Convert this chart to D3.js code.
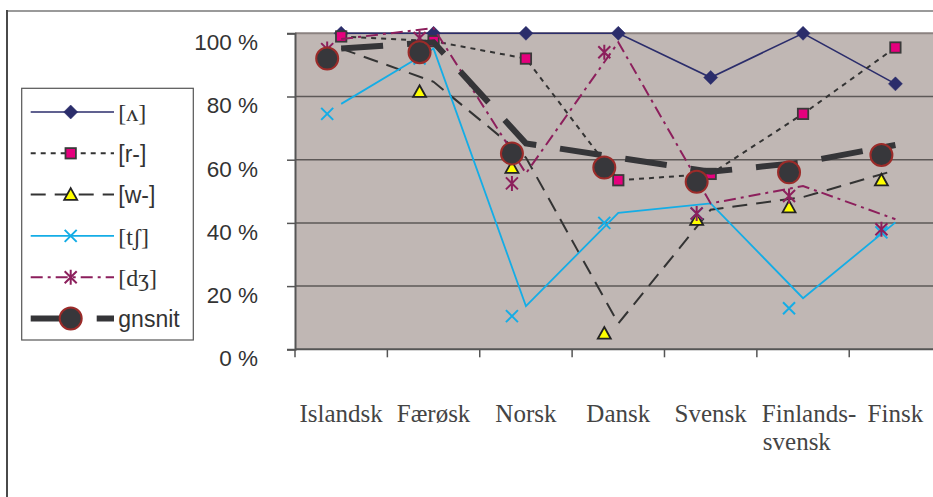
<!DOCTYPE html>
<html>
<head>
<meta charset="utf-8">
<script src="https://cdn.jsdelivr.net/npm/d3@7"></script>
<style>
  html, body { margin: 0; padding: 0; background: #fff; }
  svg { display: block; }
</style>
</head>
<body>
<svg id="chart" width="933" height="497"></svg>
<script>
// Categories (languages) and the share of each variant, in percent
const categories = ["Islandsk", "Færøsk", "Norsk", "Dansk", "Svensk", "Finlands-svensk", "Finsk"];
const seriesNames = ["[ʌ]", "[r-]", "[w-]", "[tʃ]", "[dʒ]", "gnsnit"];
const valuesLambda = [100, 100, 100, 100, 86, 100, 84];
const valuesR      = [99, 97.5, 92, 53.5, 55.5, 74.5, 95.5];
const valuesW      = [92, 81.5, 57.5, 5, 41, 45, 53.5];
const valuesTsh    = [74.5, 92, 10.5, 40, 43, 13, 37];
const valuesDzh    = [95, 98.5, 52.5, 94, 43, 48.5, 38];
const valuesAvg    = [92, 94, 62, 57.5, 53, 56, 61.5];
const yTicks = [0, 20, 40, 60, 80, 100];

const seriesValues = [valuesLambda, valuesR, valuesW, valuesTsh, valuesDzh, valuesAvg];

// Drawing styles for each series
const styles = [
  { color: "#2b2d6b", width: 1.6, dash: null,        marker: "diamond",  shifted: false },
  { color: "#333333", width: 2,   dash: "5,5",       marker: "square",   shifted: false },
  { color: "#333333", width: 2,   dash: "15,9",      marker: "triangle", shifted: true  },
  { color: "#14ade6", width: 1.8, dash: null,        marker: "cross",    shifted: true  },
  { color: "#8c1f5c", width: 2,   dash: "12,5,3,5",  marker: "asterisk", shifted: true  },
  { color: "#353538", width: 6,   dash: "42,24",     marker: "circle",   shifted: true  }
];
// markers of the shifted series sit left/below of their polyline vertices
const markerShiftX = -14, lineShiftY = -10;

const svg = d3.select("#chart");

const plot = { left: 295, right: 941.6, top: 33.3, bottom: 349.3 };

const x = d3.scaleBand().domain(categories).range([plot.left, plot.right]).padding(0);
const cx = c => x(c) + x.bandwidth() / 2;
const y = d3.scaleLinear().domain([0, 100]).range([plot.bottom, plot.top]);

// outer chart frame
svg.append("line").attr("x1", 7).attr("x2", 933).attr("y1", 11).attr("y2", 11)
  .attr("stroke", "#9a9a9a").attr("stroke-width", 2);
svg.append("line").attr("x1", 7).attr("x2", 7).attr("y1", 10).attr("y2", 497)
  .attr("stroke", "#4a4a4a").attr("stroke-width", 2);

// plot background
svg.append("rect")
  .attr("x", plot.left).attr("y", plot.top)
  .attr("width", plot.right - plot.left).attr("height", plot.bottom - plot.top)
  .attr("fill", "#c0b7b4");

// gridlines
svg.append("g").selectAll("line")
  .data(yTicks.filter(t => t > 0 && t < 100))
  .join("line")
  .attr("x1", plot.left).attr("x2", plot.right)
  .attr("y1", d => y(d)).attr("y2", d => y(d))
  .attr("stroke", "#5d5857").attr("stroke-width", 1.5);

// top border of plot area
svg.append("line").attr("x1", plot.left).attr("x2", plot.right)
  .attr("y1", y(100)).attr("y2", y(100))
  .attr("stroke", "#8b8280").attr("stroke-width", 2);

// y axis
const yAxis = svg.append("g")
  .attr("transform", `translate(${plot.left},0)`)
  .call(d3.axisLeft(y).tickValues(yTicks).tickSize(8).tickPadding(29).tickFormat(d => d + " %"));
yAxis.select(".domain").attr("stroke", "#555").attr("stroke-width", 2);
yAxis.selectAll(".tick line").attr("stroke", "#555").attr("stroke-width", 1.5);
yAxis.selectAll(".tick text")
  .attr("dy", 16.3)
  .attr("fill", "#333")
  .style("font-family", "'Liberation Sans', Arial, sans-serif")
  .style("font-size", "22.5px");

// x axis baseline and category boundary ticks
svg.append("line").attr("x1", plot.left).attr("x2", plot.right)
  .attr("y1", plot.bottom).attr("y2", plot.bottom)
  .attr("stroke", "#555").attr("stroke-width", 2);
const boundaries = categories.map(c => x(c)).concat([plot.right]);
svg.append("g").selectAll("line").data(boundaries).join("line")
  .attr("x1", d => d).attr("x2", d => d)
  .attr("y1", plot.bottom).attr("y2", plot.bottom + 8)
  .attr("stroke", "#555").attr("stroke-width", 1.5);

// category labels (wrapped after a hyphen)
const xLabels = svg.append("g")
  .style("font-family", "'Liberation Serif', 'Times New Roman', serif")
  .style("font-size", "25px")
  .attr("fill", "#444");
categories.forEach(c => {
  const parts = c.includes("-") ? [c.slice(0, c.indexOf("-") + 1), c.slice(c.indexOf("-") + 1)] : [c];
  if (parts.length === 1) {
    xLabels.append("text").attr("x", cx(c)).attr("y", 421.7)
      .attr("text-anchor", "middle").text(c);
  } else {
    const t1 = xLabels.append("text").attr("y", 421.7).attr("text-anchor", "start").text(parts[0]);
    const w = t1.node().getComputedTextLength();
    const start = cx(c) - w / 2 + 6;
    t1.attr("x", start);
    xLabels.append("text").attr("x", start + 1).attr("y", 450).attr("text-anchor", "start").text(parts[1]);
  }
});

// marker shapes
function drawMarker(g, type, color) {
  switch (type) {
    case "diamond":
      g.append("path").attr("d", "M0,-7L7,0L0,7L-7,0Z").attr("fill", color).attr("stroke", color).attr("stroke-width", 0.5);
      break;
    case "square":
      g.append("rect").attr("x", -5.2).attr("y", -5.2).attr("width", 10.4).attr("height", 10.4)
        .attr("fill", "#e5007d").attr("stroke", "#3a3a3a").attr("stroke-width", 1.8);
      break;
    case "triangle":
      g.append("path").attr("d", "M0,-6.5L6.5,5.2L-6.5,5.2Z")
        .attr("fill", "#ffff00").attr("stroke", "#222").attr("stroke-width", 1.8).attr("stroke-linejoin", "miter");
      break;
    case "cross":
      g.append("path").attr("d", "M-6,-6L6,6M-6,6L6,-6").attr("stroke", color).attr("stroke-width", 2).attr("fill", "none");
      break;
    case "asterisk":
      g.append("path").attr("d", "M-6,-6L6,6M-6,6L6,-6M0,-7.5L0,7.5").attr("stroke", color).attr("stroke-width", 2).attr("fill", "none");
      break;
    case "circle":
      g.append("circle").attr("r", 11).attr("fill", "#37373b").attr("stroke", "#9b2b29").attr("stroke-width", 2);
      break;
  }
}

// series: line first, then its markers
seriesValues.forEach((vals, i) => {
  const st = styles[i];
  const data = categories.map((c, k) => ({ c, v: vals[k] }));
  const line = d3.line()
    .x(d => cx(d.c))
    .y(d => y(d.v) + (st.shifted ? lineShiftY : 0));
  const g = svg.append("g");
  g.append("path").datum(data)
    .attr("d", line)
    .attr("fill", "none")
    .attr("stroke", st.color)
    .attr("stroke-width", st.width)
    .attr("stroke-dasharray", st.dash)
    .attr("stroke-linejoin", "miter");
  data.forEach(d => {
    const mg = g.append("g")
      .attr("transform", `translate(${cx(d.c) + (st.shifted ? markerShiftX : 0)},${y(d.v)})`);
    drawMarker(mg, st.marker, st.color);
  });
});

// legend
const legend = svg.append("g");
legend.append("rect").attr("x", 21.7).attr("y", 88.3).attr("width", 171.6).attr("height", 251.7)
  .attr("fill", "#fff").attr("stroke", "#555").attr("stroke-width", 1.2);
seriesNames.forEach((name, i) => {
  const st = styles[i];
  const ry = 112 + i * 41.3;
  legend.append("line").attr("x1", 30.7).attr("x2", 114).attr("y1", ry).attr("y2", ry)
    .attr("stroke", st.color).attr("stroke-width", st.width).attr("stroke-dasharray", st.dash);
  const mg = legend.append("g").attr("transform", `translate(70.7,${ry})`);
  drawMarker(mg, st.marker, st.color);
  const ipa = /[ʌʃʒ]/.test(name);
  legend.append("text").attr("x", 118.3).attr("y", ry).attr("dy", "0.36em")
    .attr("fill", "#333")
    .style("font-family", ipa ? "'Liberation Serif', 'DejaVu Serif', serif" : "'Liberation Sans', Arial, sans-serif")
    .style("font-size", ipa ? "24px" : "23px")
    .text(name);
});
</script>
</body>
</html>
